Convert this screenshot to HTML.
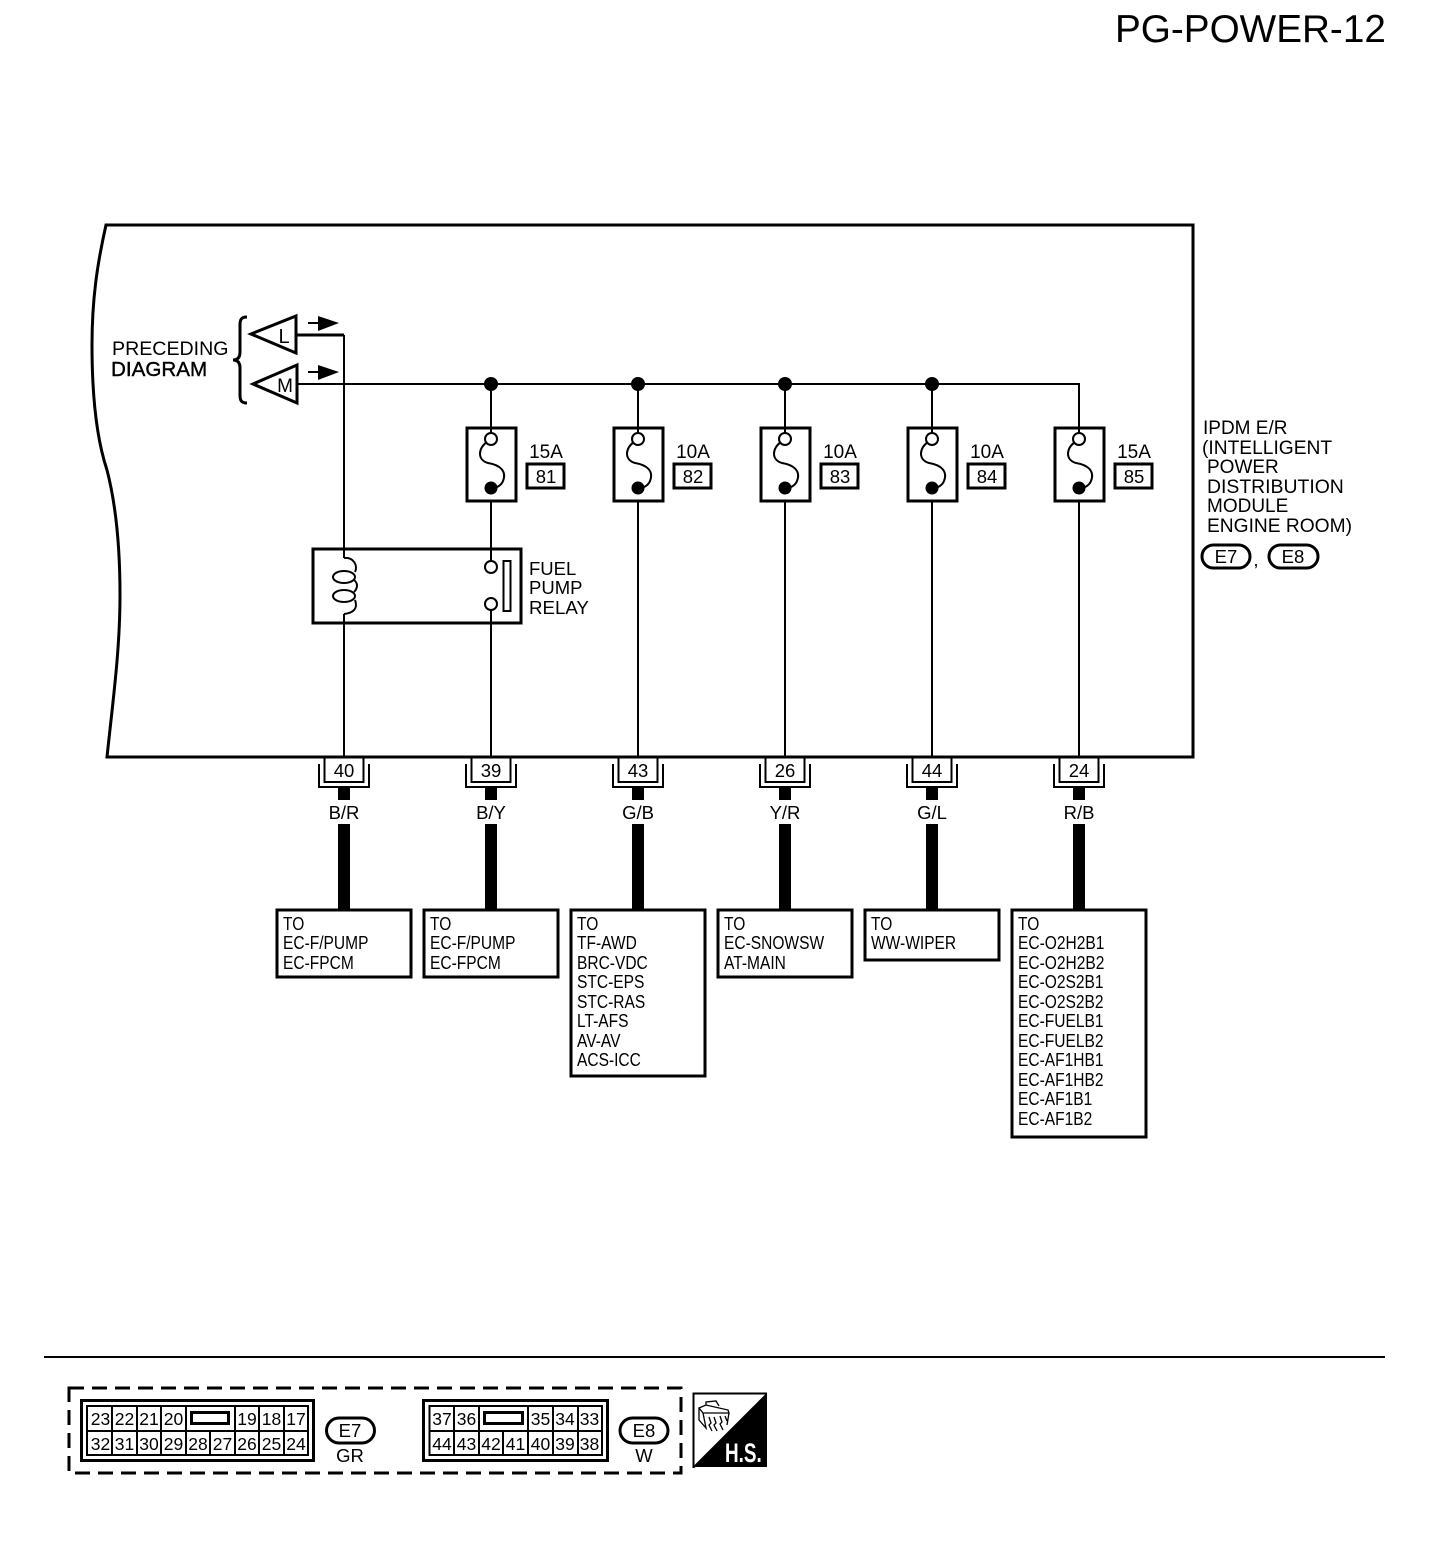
<!DOCTYPE html>
<html><head><meta charset="utf-8"><title>PG-POWER-12</title>
<style>
html,body{margin:0;padding:0;background:#fff}
svg{display:block}
text{font-family:"Liberation Sans",sans-serif;fill:#000;font-size:18.5px}
.c{text-anchor:middle}
.w{fill:none;stroke:#000;stroke-width:2}
.b{fill:none;stroke:#000;stroke-width:3}
.cell{fill:none;stroke:#000;stroke-width:2}
.n{font-size:17.5px;text-anchor:middle}
.a{font-size:19px;text-anchor:middle}
</style></head><body>
<svg width="1440" height="1562" viewBox="0 0 1440 1562" xmlns="http://www.w3.org/2000/svg">
<text x="1115" y="42" style="font-size:38.7px">PG-POWER-12</text>

<path class="b" d="M1193 225H106C97 265 92 300 92 345C92 400 97 440 107 470C116 505 120 550 120 595C120 650 113 700 107 757H1193Z"/>

<text x="112" y="355" style="font-size:19.6px">PRECEDING</text>
<text x="111" y="376" style="font-size:20.6px;stroke:#000;stroke-width:.4">DIAGRAM</text>
<path class="b" d="M247 317C241 317 240 320 240 325V352C240 357 238 360 233 360C238 360 240 363 240 368V395C240 400 241 403 247 403"/>
<path class="b" d="M296 316V353L251 334Z"/>
<path class="b" d="M297 365V403L253 384Z"/>
<text x="284" y="343" class="c" style="font-size:20px">L</text>
<text x="285" y="392" class="c" style="font-size:19px">M</text>
<path d="M308 323H320M308 372H320" class="w"/>
<path d="M318 316L339 323L318 331Z"/>
<path d="M318 365L339 372L318 380Z"/>

<path class="b" d="M296 335H344" />
<path class="w" d="M344 335V558M344 614V757"/>
<path class="w" d="M297 384H1079V433"/>
<circle cx="491" cy="384" r="7"/><circle cx="638" cy="384" r="7"/><circle cx="785" cy="384" r="7"/><circle cx="932" cy="384" r="7"/>
<path class="w" d="M491 384V433M638 384V433M785 384V433M932 384V433"/>

<g id="fuses">
<rect class="b" x="467" y="428" width="49" height="73"/>
<circle class="w" cx="491" cy="439" r="6"/><circle cx="491" cy="488" r="6.5"/>
<path class="w" d="M487 442C478 448 477 460 488 463C500 465 507 471 503 481C501 486 496 488 491 489"/>
<rect class="b" x="614" y="428" width="49" height="73"/>
<circle class="w" cx="638" cy="439" r="6"/><circle cx="638" cy="488" r="6.5"/>
<path class="w" d="M634 442C625 448 624 460 635 463C647 465 654 471 650 481C648 486 643 488 638 489"/>
<rect class="b" x="761" y="428" width="49" height="73"/>
<circle class="w" cx="785" cy="439" r="6"/><circle cx="785" cy="488" r="6.5"/>
<path class="w" d="M781 442C772 448 771 460 782 463C794 465 801 471 797 481C795 486 790 488 785 489"/>
<rect class="b" x="908" y="428" width="49" height="73"/>
<circle class="w" cx="932" cy="439" r="6"/><circle cx="932" cy="488" r="6.5"/>
<path class="w" d="M928 442C919 448 918 460 929 463C941 465 948 471 944 481C942 486 937 488 932 489"/>
<rect class="b" x="1055" y="428" width="49" height="73"/>
<circle class="w" cx="1079" cy="439" r="6"/><circle cx="1079" cy="488" r="6.5"/>
<path class="w" d="M1075 442C1066 448 1065 460 1076 463C1088 465 1095 471 1091 481C1089 486 1084 488 1079 489"/>
</g>

<text x="546" y="458" class="a">15A</text><rect class="b" x="527" y="464" width="37" height="24"/><text x="546" y="483" class="c">81</text>
<text x="693" y="458" class="a">10A</text><rect class="b" x="674" y="464" width="37" height="24"/><text x="693" y="483" class="c">82</text>
<text x="840" y="458" class="a">10A</text><rect class="b" x="821" y="464" width="37" height="24"/><text x="840" y="483" class="c">83</text>
<text x="987" y="458" class="a">10A</text><rect class="b" x="968" y="464" width="37" height="24"/><text x="987" y="483" class="c">84</text>
<text x="1134" y="458" class="a">15A</text><rect class="b" x="1115" y="464" width="37" height="24"/><text x="1134" y="483" class="c">85</text>

<path class="w" d="M491 501V561M491 610V757M638 501V757M785 501V757M932 501V757M1079 501V757"/>

<rect class="b" x="313" y="549" width="208" height="74"/>
<path class="w" d="M344 558C354 557 358 566 355 572M354 580C358 583 358 588 354 592M355 600C358 608 354 613 344 614"/>
<ellipse class="w" cx="344" cy="577" rx="11" ry="6"/>
<ellipse class="w" cx="344" cy="596" rx="11" ry="6"/>
<circle class="w" cx="491" cy="567" r="6"/><circle class="w" cx="491" cy="604" r="6"/>
<rect class="w" x="503.5" y="561" width="7" height="50"/>
<text x="529" y="575">FUEL</text><text x="529" y="594">PUMP</text><text x="529" y="614" style="font-size:18.7px">RELAY</text>

<text x="1203" y="434" style="font-size:19px">IPDM E/R</text>
<text x="1202" y="454" style="font-size:19.2px">(INTELLIGENT</text>
<text x="1207" y="473" style="font-size:19px">POWER</text>
<text x="1207" y="493" style="font-size:19.4px">DISTRIBUTION</text>
<text x="1207" y="512" style="font-size:19px">MODULE</text>
<text x="1207" y="532" style="font-size:19.2px">ENGINE ROOM)</text>
<rect class="b" x="1202" y="545" width="48" height="23" rx="11.5"/><text x="1226" y="563" class="c">E7</text>
<text x="1256" y="566" class="c">,</text>
<rect class="b" x="1269" y="545" width="49" height="23" rx="11.5"/><text x="1293" y="563" class="c">E8</text>

<g id="connectors">
<rect class="w" x="324.5" y="757" width="39" height="25"/><path class="w" d="M319 764V787H369V764"/><text x="344" y="777" class="c">40</text>
<rect class="w" x="471.5" y="757" width="39" height="25"/><path class="w" d="M466 764V787H516V764"/><text x="491" y="777" class="c">39</text>
<rect class="w" x="618.5" y="757" width="39" height="25"/><path class="w" d="M613 764V787H663V764"/><text x="638" y="777" class="c">43</text>
<rect class="w" x="765.5" y="757" width="39" height="25"/><path class="w" d="M760 764V787H810V764"/><text x="785" y="777" class="c">26</text>
<rect class="w" x="912.5" y="757" width="39" height="25"/><path class="w" d="M907 764V787H957V764"/><text x="932" y="777" class="c">44</text>
<rect class="w" x="1059.5" y="757" width="39" height="25"/><path class="w" d="M1054 764V787H1104V764"/><text x="1079" y="777" class="c">24</text>
</g>
<path d="M338 788h12v12h-12zM338 824h12v86h-12zM485 788h12v12h-12zM485 824h12v86h-12zM632 788h12v12h-12zM632 824h12v86h-12zM779 788h12v12h-12zM779 824h12v86h-12zM926 788h12v12h-12zM926 824h12v86h-12zM1073 788h12v12h-12zM1073 824h12v86h-12z"/>
<text x="344" y="819" class="c">B/R</text><text x="491" y="819" class="c">B/Y</text><text x="638" y="819" class="c">G/B</text><text x="785" y="819" class="c">Y/R</text><text x="932" y="819" class="c">G/L</text><text x="1079" y="819" class="c">R/B</text>

<rect class="b" x="277" y="910" width="134" height="67"/>
<rect class="b" x="424" y="910" width="134" height="67"/>
<rect class="b" x="571" y="910" width="134" height="166"/>
<rect class="b" x="718" y="910" width="134" height="67"/>
<rect class="b" x="865" y="910" width="134" height="50"/>
<rect class="b" x="1012" y="910" width="134" height="227"/>

<g transform="translate(283,0) scale(.84,1)"><text y="930">TO</text><text y="949">EC-F/PUMP</text><text y="969">EC-FPCM</text></g>
<g transform="translate(430,0) scale(.84,1)"><text y="930">TO</text><text y="949">EC-F/PUMP</text><text y="969">EC-FPCM</text></g>
<g transform="translate(577,0) scale(.84,1)"><text y="930">TO</text><text y="949">TF-AWD</text><text y="969">BRC-VDC</text><text y="988">STC-EPS</text><text y="1008">STC-RAS</text><text y="1027">LT-AFS</text><text y="1047">AV-AV</text><text y="1066">ACS-ICC</text></g>
<g transform="translate(724,0) scale(.84,1)"><text y="930">TO</text><text y="949">EC-SNOWSW</text><text y="969">AT-MAIN</text></g>
<g transform="translate(871,0) scale(.84,1)"><text y="930">TO</text><text y="949">WW-WIPER</text></g>
<g transform="translate(1018,0) scale(.84,1)"><text y="930">TO</text><text y="949">EC-O2H2B1</text><text y="969">EC-O2H2B2</text><text y="988">EC-O2S2B1</text><text y="1008">EC-O2S2B2</text><text y="1027">EC-FUELB1</text><text y="1047">EC-FUELB2</text><text y="1066">EC-AF1HB1</text><text y="1086">EC-AF1HB2</text><text y="1105">EC-AF1B1</text><text y="1125">EC-AF1B2</text></g>

<path d="M44 1357H1385" class="w"/>
<rect x="69" y="1388" width="612" height="85" fill="none" stroke="#000" stroke-width="3" stroke-dasharray="15 8"/>

<!-- E7 -->
<rect class="b" x="81.5" y="1400.5" width="232" height="60"/>
<rect class="cell" x="87" y="1406" width="221" height="49"/>
<path class="cell" d="M87 1431H308M112 1406V1455M137 1406V1455M161 1406V1455M186 1406V1455M210 1431V1455M235 1406V1455M259 1406V1455M284 1406V1455"/>
<rect class="b" x="191.5" y="1412.5" width="37" height="11"/>
<text x="100.5" y="1425" class="n">23</text><text x="124.5" y="1425" class="n">22</text><text x="149" y="1425" class="n">21</text><text x="173.5" y="1425" class="n">20</text><text x="247" y="1425" class="n">19</text><text x="271.5" y="1425" class="n">18</text><text x="296" y="1425" class="n">17</text>
<text x="100.5" y="1450" class="n">32</text><text x="124.5" y="1450" class="n">31</text><text x="149" y="1450" class="n">30</text><text x="173.5" y="1450" class="n">29</text><text x="198" y="1450" class="n">28</text><text x="222.5" y="1450" class="n">27</text><text x="247" y="1450" class="n">26</text><text x="271.5" y="1450" class="n">25</text><text x="296" y="1450" class="n">24</text>
<rect class="b" x="326.5" y="1418" width="48" height="25" rx="12.5"/><text x="350" y="1437" class="c">E7</text>
<text x="350" y="1462" class="c">GR</text>

<!-- E8 -->
<rect class="b" x="423.5" y="1400.5" width="184" height="60"/>
<rect class="cell" x="429.5" y="1406" width="172.5" height="49"/>
<path class="cell" d="M429.5 1431H602M454 1406V1455M479 1406V1455M503 1431V1455M528 1406V1455M553 1406V1455M578 1406V1455"/>
<rect class="b" x="484.5" y="1412.5" width="38" height="11"/>
<text x="442" y="1425" class="n">37</text><text x="466.5" y="1425" class="n">36</text><text x="540.5" y="1425" class="n">35</text><text x="565" y="1425" class="n">34</text><text x="589.5" y="1425" class="n">33</text>
<text x="442" y="1450" class="n">44</text><text x="466.5" y="1450" class="n">43</text><text x="491" y="1450" class="n">42</text><text x="515.5" y="1450" class="n">41</text><text x="540.5" y="1450" class="n">40</text><text x="565" y="1450" class="n">39</text><text x="589.5" y="1450" class="n">38</text>
<rect class="b" x="620" y="1418" width="48" height="25" rx="12.5"/><text x="644" y="1437" class="c">E8</text>
<text x="644" y="1462" class="c">W</text>

<!-- H.S. -->
<path d="M693.5 1393.5H766V1395L694 1467H693.5Z" fill="#fff" stroke="#000" stroke-width="2"/>
<path d="M767 1393V1467H693Z"/>
<path d="M699 1408L706 1405L728 1410L729 1413L703 1413ZM699 1408L699 1420L706 1428L703 1413M729 1413L727 1425M706 1405L706 1402L716 1401L719 1406M709 1417L711 1423L709 1425L712 1431M714 1417L716 1423L714 1425L717 1431M720 1416L722 1422L720 1424L723 1430M725 1416L727 1421" fill="none" stroke="#000" stroke-width="1.3"/>
<text x="0" y="1462" style="fill:#fff;font-weight:bold;font-size:27px" transform="translate(725,0) scale(.7,1)">H.S.</text>
</svg>
</body></html>
